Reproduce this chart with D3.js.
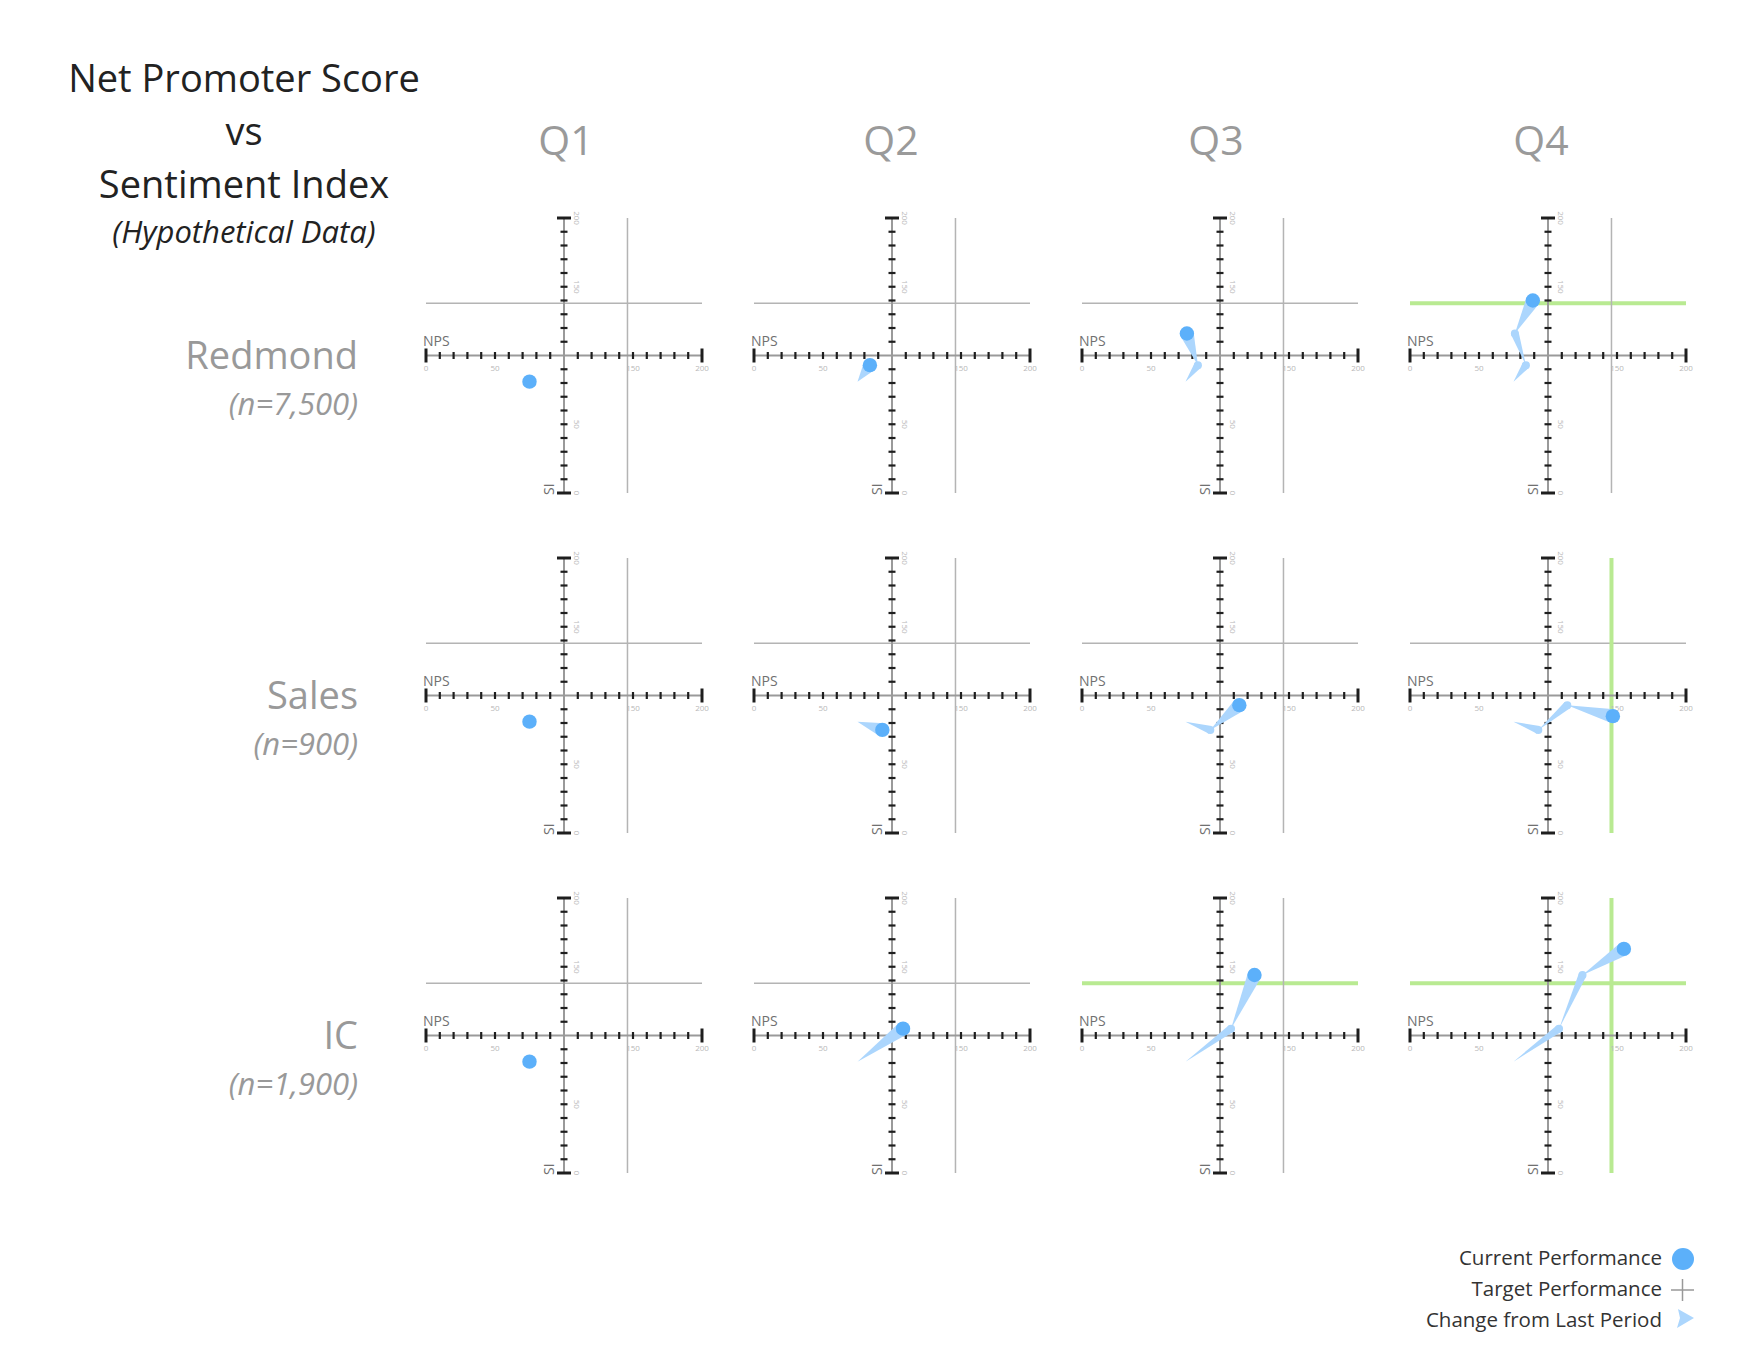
<!DOCTYPE html>
<html><head><meta charset="utf-8">
<script src="https://cdn.jsdelivr.net/npm/d3@7"></script>
<style>body{margin:0;background:#fff} svg{display:block}</style>
</head><body>
<svg id="chart" width="1760" height="1360"></svg>
<script>
// ---- data ----
const quarters = ["Q1", "Q2", "Q3", "Q4"];
const teams = ["Redmond", "Sales", "IC"];
const sampleSizes = ["(n=7,500)", "(n=900)", "(n=1,900)"];
const npsRedmond = [75, 84, 76, 89];
const siRedmond  = [81, 93, 116, 140];
const npsSales   = [75, 93, 114, 147];
const siSales    = [81, 75, 93, 85];
const npsIC      = [75, 108, 125, 155];
const siIC       = [81, 105, 144, 163];
const targetNPS = 146;
const targetSI = 138;
const axisLabelValues = [0, 50, 150, 200];
const tickValues = d3.range(0, 201, 10);
const titleLines = ["Net Promoter Score", "vs", "Sentiment Index"];
const subtitle = "(Hypothetical Data)";
const legendLabels = ["Current Performance", "Target Performance", "Change from Last Period"];

const npsByTeam = [npsRedmond, npsSales, npsIC];
const siByTeam = [siRedmond, siSales, siIC];

// ---- styles ----
const FONT = "'Open Sans', 'Noto Sans', sans-serif";
const DOT = "#5cb0fa";
const WEDGE = "#acd6fd";
const GREEN = "#b9ea92";
const GRAYLINE = "#b4b4b4";

const svg = d3.select("#chart");
svg.append("rect").attr("width", 1760).attr("height", 1360).attr("fill", "#fff");

// layout scales
const colScale = d3.scaleLinear().domain([0, 3]).range([426, 1410]);
const headerScale = d3.scaleLinear().domain([0, 3]).range([566, 1541]);
const rowScale = d3.scaleLinear().domain([0, 2]).range([218, 898]);
const PW = 276, PH = 275;
const x = d3.scaleLinear().domain([0, 200]).range([0, PW]);
const y = d3.scaleLinear().domain([0, 200]).range([PH, 0]);

// ---- title ----
const title = svg.append("g").attr("font-family", FONT).attr("fill", "#222").attr("text-anchor", "middle");
titleLines.forEach((t, i) => {
  title.append("text").attr("x", 244).attr("y", 92 + i * 53).attr("font-size", 38).text(t);
});
title.append("text").attr("x", 244).attr("y", 243).attr("font-size", 31).attr("font-style", "italic").text(subtitle);

// ---- column headers ----
quarters.forEach((q, c) => {
  svg.append("text").attr("x", headerScale(c)).attr("y", 155)
    .attr("text-anchor", "middle").attr("font-family", FONT).attr("font-size", 41)
    .attr("fill", "#9a9a9a").text(q);
});

// ---- row labels ----
teams.forEach((t, r) => {
  const top = rowScale(r);
  svg.append("text").attr("x", 358).attr("y", top + 151).attr("text-anchor", "end")
    .attr("font-family", FONT).attr("font-size", 38).attr("fill", "#999").text(t);
  svg.append("text").attr("x", 358).attr("y", top + 197).attr("text-anchor", "end")
    .attr("font-family", FONT).attr("font-size", 31).attr("font-style", "italic")
    .attr("fill", "#999").text(sampleSizes[r]);
});

// ---- panels ----
function wedge(p0, p1, h) {
  const dx = p1[0] - p0[0], dy = p1[1] - p0[1];
  const len = Math.hypot(dx, dy) || 1;
  const nx = -dy / len, ny = dx / len;
  return d3.line()([p0, [p1[0] + nx * h, p1[1] + ny * h], [p1[0] - nx * h, p1[1] - ny * h]]) + "Z";
}

teams.forEach((team, r) => {
  quarters.forEach((q, c) => {
    const g = svg.append("g").attr("transform", `translate(${colScale(c)},${rowScale(r)})`);
    const nps = npsByTeam[r], si = siByTeam[r];
    const curNPS = nps[c], curSI = si[c];

    // target lines
    const metSI = curSI >= targetSI, metNPS = curNPS >= targetNPS;
    g.append("line").attr("x1", x(0)).attr("x2", x(200)).attr("y1", y(targetSI)).attr("y2", y(targetSI))
      .attr("stroke", metSI ? GREEN : GRAYLINE).attr("stroke-width", metSI ? 4 : 1.5);
    g.append("line").attr("x1", x(targetNPS)).attr("x2", x(targetNPS)).attr("y1", y(200)).attr("y2", y(0))
      .attr("stroke", metNPS ? GREEN : GRAYLINE).attr("stroke-width", metNPS ? 4 : 1.5);

    // axes
    const ax = x(100), ay = y(100);
    g.append("line").attr("x1", x(0)).attr("x2", x(200)).attr("y1", ay).attr("y2", ay)
      .attr("stroke", "#9a9a9a").attr("stroke-width", 2);
    g.append("line").attr("x1", ax).attr("x2", ax).attr("y1", y(200)).attr("y2", y(0))
      .attr("stroke", "#9a9a9a").attr("stroke-width", 2);

    tickValues.filter(v => v !== 100).forEach(v => {
      const major = (v === 0 || v === 200);
      const half = major ? 7 : 3.5;
      const sw = major ? 3 : 2.2;
      g.append("line").attr("x1", x(v)).attr("x2", x(v)).attr("y1", ay - half).attr("y2", ay + half)
        .attr("stroke", "#1e1e1e").attr("stroke-width", sw);
      g.append("line").attr("x1", ax - half).attr("x2", ax + half).attr("y1", y(v)).attr("y2", y(v))
        .attr("stroke", "#1e1e1e").attr("stroke-width", sw);
    });

    axisLabelValues.forEach(v => {
      g.append("text").attr("x", x(v)).attr("y", ay + 15).attr("text-anchor", "middle")
        .attr("font-family", FONT).attr("font-size", 8).attr("fill", "#b8b8b8").text(v);
      g.append("text").attr("transform", `translate(${ax + 10},${y(v)}) rotate(90)`)
        .attr("text-anchor", "middle")
        .attr("font-family", FONT).attr("font-size", 8).attr("fill", "#b8b8b8").text(v);
    });

    g.append("text").attr("x", x(0) - 3).attr("y", ay - 10).attr("font-family", FONT)
      .attr("font-size", 14).attr("fill", "#707070").text("NPS");
    g.append("text").attr("transform", `translate(${ax - 10},${y(0) + 2}) rotate(-90)`)
      .attr("font-family", FONT).attr("font-size", 14).attr("fill", "#707070").text("SI");

    // trail
    for (let k = 1; k <= c; k++) {
      const p0 = [x(nps[k - 1]), y(si[k - 1])];
      const p1 = [x(nps[k]), y(si[k])];
      const h = (k === c) ? 7 : 4;
      g.append("path").attr("d", wedge(p0, p1, h)).attr("fill", WEDGE);
      if (k < c) g.append("circle").attr("cx", p1[0]).attr("cy", p1[1]).attr("r", h).attr("fill", WEDGE);
    }
    // current dot
    g.append("circle").attr("cx", x(curNPS)).attr("cy", y(curSI)).attr("r", 7.2).attr("fill", DOT);
  });
});

// ---- legend ----
const lg = svg.append("g").attr("font-family", FONT).attr("font-size", 20.5).attr("fill", "#333");
legendLabels.forEach((t, i) => {
  lg.append("text").attr("x", 1662).attr("y", 1265 + i * 31).attr("text-anchor", "end").text(t);
});
lg.append("circle").attr("cx", 1683).attr("cy", 1259).attr("r", 11).attr("fill", DOT);
lg.append("line").attr("x1", 1671).attr("x2", 1694).attr("y1", 1290).attr("y2", 1290).attr("stroke", "#999").attr("stroke-width", 1.5);
lg.append("line").attr("x1", 1682.5).attr("x2", 1682.5).attr("y1", 1279).attr("y2", 1301).attr("stroke", "#999").attr("stroke-width", 1.5);
lg.append("path").attr("d", d3.line()([[1678, 1309], [1694, 1318], [1677, 1328], [1680, 1318]]) + "Z").attr("fill", WEDGE);
</script>
</body></html>
